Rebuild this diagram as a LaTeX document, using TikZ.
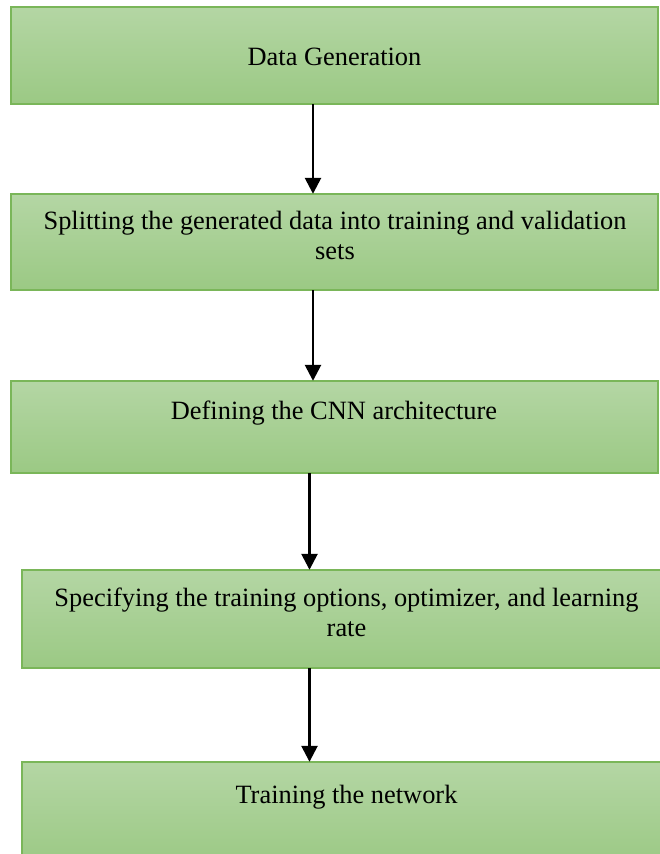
\documentclass[tikz,border=0pt]{standalone}
\usepackage{fontspec}
\setmainfont{Liberation Serif}
\usetikzlibrary{arrows.meta}
\definecolor{gtop}{RGB}{180,214,164}
\definecolor{gbot}{RGB}{155,201,132}
\definecolor{gedge}{RGB}{122,182,89}
\tikzset{
  stepbox/.style={draw=gedge, line width=1.8pt, top color=gtop, bottom color=gbot, rectangle, inner sep=0pt},
  steptext/.style={anchor=base, align=center, inner sep=0pt, font=\fontsize{26.4}{30}\selectfont},
  flow/.style={line width=2.6pt, -{Triangle[width=16pt,length=16pt]}}
}
\begin{document}
\begin{tikzpicture}[x=1pt,y=-1pt]
\useasboundingbox (0,0) rectangle (659,854);
% boxes
\path[stepbox] (11,7) rectangle (658,104);
\node[inner sep=0pt] (b1) at (334.5,55.5) [minimum width=647pt, minimum height=97pt] {};
\path[stepbox] (11,194) rectangle (658,290);
\node[inner sep=0pt] (b2) at (334.5,242) [minimum width=647pt, minimum height=96pt] {};
\path[stepbox] (11,381) rectangle (658,473);
\node[inner sep=0pt] (b3) at (334.5,427) [minimum width=647pt, minimum height=92pt] {};
\path[stepbox] (22,570) rectangle (672,668);
\node[inner sep=0pt] (b4) at (347,619) [minimum width=650pt, minimum height=98pt] {};
\path[stepbox] (22,762) rectangle (672,866);
\node[inner sep=0pt] (b5) at (347,814) [minimum width=650pt, minimum height=104pt] {};
% texts
\node[steptext] (t1) at (334.5,65) {Data Generation};
\node[steptext] (t2) at (335,259) {Splitting the generated data into training and validation\\sets};
\node[steptext] (t3) at (334,419) {Defining the CNN architecture};
\node[steptext] (t4) at (346.5,636) {Specifying the training options, optimizer, and learning\\rate};
\node[steptext] (t5) at (346.5,803) {Training the network};
% arrows
\coordinate (ax1) at (313,0);
\coordinate (ax2) at (309.5,0);
\draw[flow] (b1.south -| ax1) -- (b2.north -| ax1);
\draw[flow] (b2.south -| ax1) -- (b3.north -| ax1);
\draw[flow] (b3.south -| ax2) -- (b4.north -| ax2);
\draw[flow] (b4.south -| ax2) -- (b5.north -| ax2);
\end{tikzpicture}
\end{document}
